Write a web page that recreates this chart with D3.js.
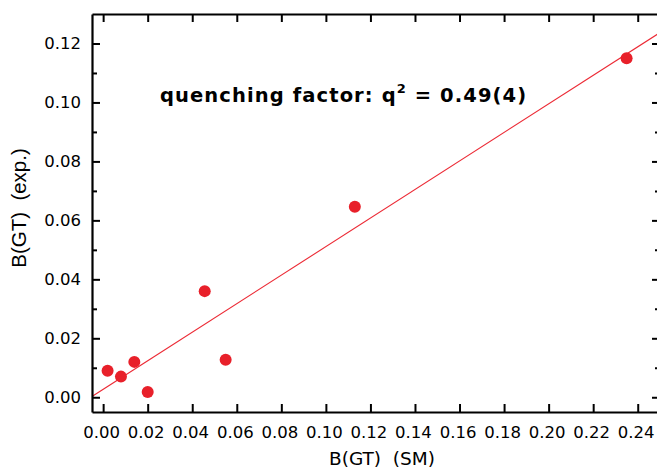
<!DOCTYPE html>
<html>
<head>
<meta charset="utf-8">
<script src="https://cdn.jsdelivr.net/npm/d3@7"></script>
<style>
  html, body { margin: 0; padding: 0; background: #fff; }
  svg { display: block; }
  .tick text { font-family: "DejaVu Sans", sans-serif; }
</style>
</head>
<body>
<svg id="chart" width="657" height="468"></svg>
<script>
// B(GT) values: shell-model prediction (x) vs. experiment (y)
const bgtSM  = [0.002, 0.008, 0.014, 0.020, 0.0456, 0.055, 0.113, 0.235];
const bgtExp = [0.009, 0.007, 0.012, 0.0018, 0.036, 0.0127, 0.0646, 0.115];

// straight-line fit through the points
const fitSlope = 0.484;
const fitIntercept = 0.0027;

const xTicks = [0.00, 0.02, 0.04, 0.06, 0.08, 0.10, 0.12, 0.14, 0.16, 0.18, 0.20, 0.22, 0.24];
const yTicks = [0.00, 0.02, 0.04, 0.06, 0.08, 0.10, 0.12];
const yMinorTicks = [0.01, 0.03, 0.05, 0.07, 0.09, 0.11];

const xDomain = [-0.005, 0.25];
const yDomain = [-0.005, 0.13];

const frame = { left: 92, right: 660, top: 14, bottom: 412 };

const svg = d3.select("#chart");

const x = d3.scaleLinear().domain(xDomain).range([frame.left, frame.right]);
const y = d3.scaleLinear().domain(yDomain).range([frame.bottom, frame.top]);

svg.append("defs").append("clipPath").attr("id", "plot-clip")
  .append("rect")
  .attr("x", frame.left).attr("y", frame.top)
  .attr("width", frame.right - frame.left).attr("height", frame.bottom - frame.top);

const fmt = d3.format(".2f");

// fit line
svg.append("line")
  .attr("clip-path", "url(#plot-clip)")
  .attr("x1", x(xDomain[0])).attr("y1", y(fitIntercept + fitSlope * xDomain[0]))
  .attr("x2", x(xDomain[1])).attr("y2", y(fitIntercept + fitSlope * xDomain[1]))
  .attr("stroke", "#ec2a35").attr("stroke-width", 1.1);

// data points
svg.append("g").selectAll("circle")
  .data(bgtSM.map((v, i) => [v, bgtExp[i]]))
  .join("circle")
  .attr("cx", d => x(d[0]))
  .attr("cy", d => y(d[1]))
  .attr("r", 6)
  .attr("fill", "#e8202a");

function styleAxis(g, labelSize) {
  g.select(".domain").attr("stroke", "#000").attr("stroke-width", 2.2);
  g.selectAll(".tick line").attr("stroke", "#000").attr("stroke-width", 2);
  g.selectAll(".tick text")
    .attr("fill", "#000")
    .style("font-size", labelSize + "px");
}

// bottom axis
svg.append("g")
  .attr("transform", `translate(0,${frame.bottom})`)
  .call(d3.axisBottom(x).tickValues(xTicks).tickFormat(fmt).tickSizeInner(-8).tickSizeOuter(0).tickPadding(14))
  .call(g => styleAxis(g, 16.5))
  .call(g => g.selectAll(".tick text").attr("dx", -2));

// top axis
svg.append("g")
  .attr("transform", `translate(0,${frame.top})`)
  .call(d3.axisTop(x).tickValues(xTicks).tickFormat("").tickSizeInner(-8).tickSizeOuter(0))
  .call(g => styleAxis(g, 16));

// left axis
svg.append("g")
  .attr("transform", `translate(${frame.left},0)`)
  .call(d3.axisLeft(y).tickValues(yTicks).tickFormat(fmt).tickSizeInner(-8).tickSizeOuter(0).tickPadding(11))
  .call(g => styleAxis(g, 16.5));

svg.append("g")
  .attr("transform", `translate(${frame.left},0)`)
  .call(d3.axisLeft(y).tickValues(yMinorTicks).tickFormat("").tickSizeInner(-5).tickSizeOuter(0))
  .call(g => styleAxis(g, 16))
  .call(g => g.select(".domain").remove());

// right axis
svg.append("g")
  .attr("transform", `translate(${frame.right},0)`)
  .call(d3.axisRight(y).tickValues(yTicks).tickFormat("").tickSizeInner(-8).tickSizeOuter(0))
  .call(g => styleAxis(g, 16));

svg.append("g")
  .attr("transform", `translate(${frame.right},0)`)
  .call(d3.axisRight(y).tickValues(yMinorTicks).tickFormat("").tickSizeInner(-5).tickSizeOuter(0))
  .call(g => styleAxis(g, 16))
  .call(g => g.select(".domain").remove());

// axis titles
svg.append("text")
  .attr("x", 382).attr("y", 465)
  .attr("text-anchor", "middle")
  .style("font-family", "'DejaVu Sans', sans-serif")
  .style("font-size", "18.5px")
  .style("white-space", "pre")
  .text("B(GT)  (SM)");

svg.append("text")
  .attr("transform", "translate(26,208) rotate(-90)")
  .attr("text-anchor", "middle")
  .style("font-family", "'Liberation Sans', Arial, sans-serif")
  .style("font-size", "20.5px")
  .style("white-space", "pre")
  .text("B(GT)  (exp.)");

// annotation
const note = svg.append("text")
  .attr("x", 160).attr("y", 102)
  .style("font-family", "'DejaVu Sans', sans-serif")
  .style("font-weight", "bold")
  .style("font-size", "19.5px")
  .style("letter-spacing", "1.1px")
  .style("white-space", "pre");
note.append("tspan").text("quenching factor: q");
note.append("tspan").attr("dy", -9).style("font-size", "13px").text("2");
note.append("tspan").attr("dy", 9).text(" = 0.49(4)");
</script>
</body>
</html>
